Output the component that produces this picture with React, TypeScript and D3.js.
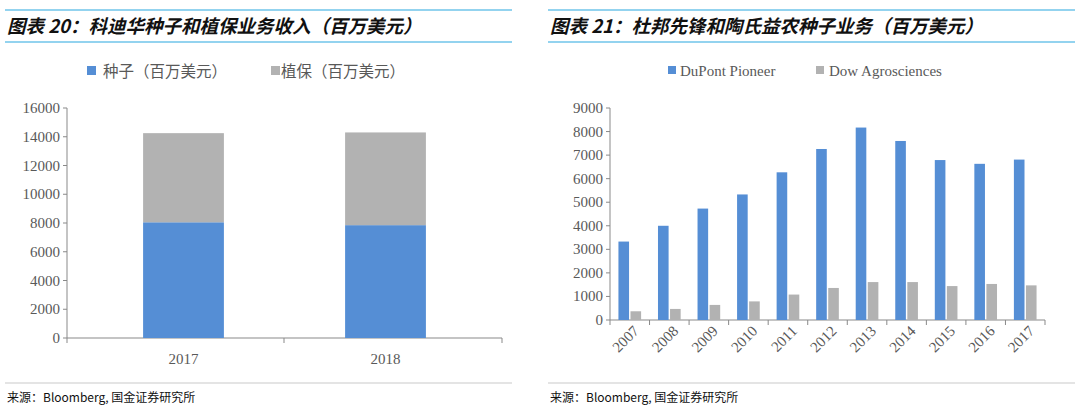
import React from 'react'
import * as d3 from 'd3'

const leftYears = ['2017', '2018']
const seeds = [8050, 7850]
const protection = [6200, 6450]
const leftTicks = [0, 2000, 4000, 6000, 8000, 10000, 12000, 14000, 16000]

const rightYears = ['2007', '2008', '2009', '2010', '2011', '2012', '2013', '2014', '2015', '2016', '2017']
const pioneer = [3330, 4000, 4730, 5330, 6270, 7260, 8170, 7600, 6790, 6630, 6810]
const dow = [370, 470, 640, 790, 1080, 1360, 1610, 1610, 1440, 1530, 1470]
const rightTicks = [0, 1000, 2000, 3000, 4000, 5000, 6000, 7000, 8000, 9000]

const BLUE = '#558ed5'
const GRAY = '#b2b2b2'
const serif = '"Liberation Serif", "Times New Roman", serif'
const cjk = '"Noto Sans CJK SC", sans-serif'

export default function App() {
  // left chart
  const ly = d3.scaleLinear().domain([0, 16000]).range([338, 108])
  const lx = d3.scaleBand().domain(leftYears).range([53, 516]).paddingInner(0.6).paddingOuter(0.446)
  // right chart
  const ry = d3.scaleLinear().domain([0, 9000]).range([320, 108])
  const rx = d3.scaleBand().domain(rightYears).range([610, 1045])
  const sub = d3.scaleBand().domain(['p', 'd']).range([0, rx.bandwidth()]).paddingInner(0.12).paddingOuter(0.7)

  const header = (x1: number, x2: number, title: string) => (
    <g>
      <line x1={x1} x2={x2} y1={10} y2={10} stroke="#29a8e0" strokeWidth={1.2} />
      <line x1={x1} x2={x2} y1={42} y2={42} stroke="#29a8e0" strokeWidth={1.2} />
      <text x={x1 + 2} y={33} fontFamily={cjk} fontSize={18.5} fontWeight="bold" fontStyle="italic" fill="#111">{title}</text>
      <line x1={x1} x2={x2} y1={383} y2={383} stroke="#bbb" strokeWidth={0.8} />
      <text x={x1 + 2} y={402} fontFamily={cjk} fontSize={12} fill="#111">来源：Bloomberg, 国金证券研究所</text>
    </g>
  )

  return (
    <svg width={1080} height={413} style={{ position: 'absolute', left: 0, top: 0, background: '#fff' }}>
      {header(5, 512, '图表 20：科迪华种子和植保业务收入（百万美元）')}
      {header(548, 1075, '图表 21：杜邦先锋和陶氏益农种子业务（百万美元）')}

      {/* left legend */}
      <rect x={87} y={66} width={9} height={9} fill={BLUE} />
      <text x={103} y={77} fontFamily={cjk} fontSize={15.5} fill="#595959">种子（百万美元）</text>
      <rect x={271} y={66} width={9} height={9} fill={GRAY} />
      <text x={281} y={77} fontFamily={cjk} fontSize={15.5} fill="#595959">植保（百万美元）</text>

      {/* left axes */}
      <line x1={67} x2={67} y1={108} y2={338} stroke="#898989" />
      {leftTicks.map(t => (
        <g key={t}>
          <line x1={63} x2={67} y1={ly(t)} y2={ly(t)} stroke="#898989" />
          <text x={60} y={ly(t) + 5} textAnchor="end" fontFamily={serif} fontSize={15} fill="#595959">{t}</text>
        </g>
      ))}
      <line x1={67} x2={502} y1={338} y2={338} stroke="#898989" />
      {[67, 284, 502].map(x => <line key={x} x1={x} x2={x} y1={338} y2={343} stroke="#898989" />)}
      {leftYears.map((y, i) => (
        <g key={y}>
          <rect x={lx(y)} width={lx.bandwidth()} y={ly(seeds[i])} height={ly(0) - ly(seeds[i])} fill={BLUE} />
          <rect x={lx(y)} width={lx.bandwidth()} y={ly(seeds[i] + protection[i])} height={ly(0) - ly(protection[i])} fill={GRAY} />
          <text x={lx(y)! + lx.bandwidth() / 2} y={364} textAnchor="middle" fontFamily={serif} fontSize={15} fill="#595959">{y}</text>
        </g>
      ))}

      {/* right legend */}
      <rect x={668} y={66} width={8} height={8} fill={BLUE} />
      <text x={680} y={76} fontFamily={serif} fontSize={15} fill="#595959">DuPont Pioneer</text>
      <rect x={816} y={66} width={8} height={8} fill={GRAY} />
      <text x={829} y={76} fontFamily={serif} fontSize={15} fill="#595959">Dow Agrosciences</text>

      {/* right axes */}
      <line x1={610} x2={610} y1={108} y2={320} stroke="#898989" />
      {rightTicks.map(t => (
        <g key={t}>
          <line x1={606} x2={610} y1={ry(t)} y2={ry(t)} stroke="#898989" />
          <text x={603} y={ry(t) + 5} textAnchor="end" fontFamily={serif} fontSize={15} fill="#595959">{t}</text>
        </g>
      ))}
      <line x1={610} x2={1045} y1={320} y2={320} stroke="#898989" />
      {rightYears.map((y, i) => (
        <g key={y}>
          <line x1={rx(y)! + rx.bandwidth()} x2={rx(y)! + rx.bandwidth()} y1={320} y2={325} stroke="#898989" />
          <rect x={rx(y)! + sub('p')!} width={sub.bandwidth()} y={ry(pioneer[i])} height={ry(0) - ry(pioneer[i])} fill={BLUE} />
          <rect x={rx(y)! + sub('d')!} width={sub.bandwidth()} y={ry(dow[i])} height={ry(0) - ry(dow[i])} fill={GRAY} />
          <text transform={`translate(${rx(y)! + rx.bandwidth() / 2 + 10},${332}) rotate(-45)`} textAnchor="end" fontFamily={serif} fontSize={15} fill="#595959">{y}</text>
        </g>
      ))}
      <line x1={610} x2={610} y1={320} y2={325} stroke="#898989" />
    </svg>
  )
}
